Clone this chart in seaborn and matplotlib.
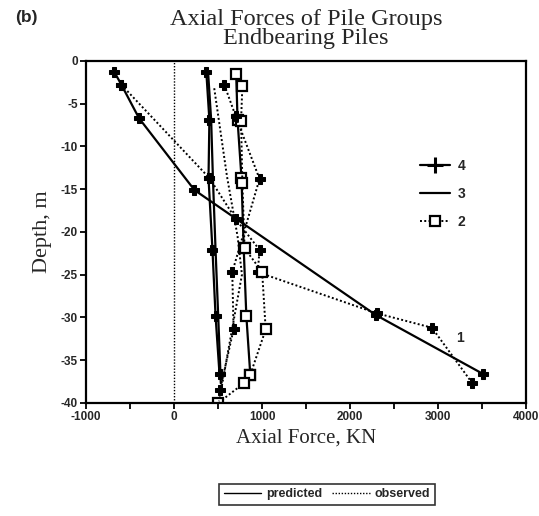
import matplotlib
matplotlib.use("Agg")
import matplotlib.pyplot as plt
import seaborn as sns
from matplotlib.lines import Line2D

sns.set_style("white")
plt.rcParams["axes.unicode_minus"] = False

# predicted (solid)
p1_force = [-680, -600, -400, 230, 2290, 3510]
p1_depth = [-1.3, -2.8, -6.7, -15.1, -29.7, -36.6]
p2_force = [705, 720, 765, 790, 820, 865]
p2_depth = [-1.5, -6.9, -13.7, -21.9, -29.8, -36.7]
p3_force = [385, 420, 440, 470, 500, 530]
p3_depth = [-1.3, -6.9, -13.7, -22.1, -29.8, -37.7]
p4_force = [365, 400, 390, 435, 470, 515]
p4_depth = [-1.3, -6.9, -13.7, -22.1, -29.8, -36.6]

# observed (dotted)
o1_force = [-600, 400, 700, 970, 950, 2300, 2930, 3390]
o1_depth = [-2.8, -13.7, -18.5, -22.1, -24.7, -29.5, -31.2, -37.7]
o2_force = [775, 760, 775, 800, 1000, 1040, 865, 790, 500]
o2_depth = [-2.9, -7.0, -14.3, -21.9, -24.7, -31.4, -36.7, -37.7, -40.0]
o3_force = [455, 600, 720, 770, 510]
o3_depth = [-3.2, -13.5, -20.5, -25.0, -39.8]
o4_force = [570, 700, 970, 660, 675, 520]
o4_depth = [-2.8, -6.5, -13.8, -24.7, -31.4, -38.5]

x_ticks = [-1000, 0, 1000, 2000, 3000, 4000]
y_ticks = [0, -5, -10, -15, -20, -25, -30, -35, -40]

dot = (0, (1, 1.2))
plus = dict(marker="P", markersize=6.5, markerfacecolor="black", markeredgecolor="black")
square = dict(marker="s", markersize=6.5, markerfacecolor="white",
              markeredgecolor="black", markeredgewidth=1.6)

fig = plt.figure(figsize=(5.39, 5.16), dpi=100)
ax = fig.add_axes([0.160, 0.219, 0.816, 0.663])

def draw(xs, ys, ls, lw, **kw):
    sns.lineplot(x=xs, y=ys, sort=False, estimator=None, color="black",
                 linestyle=ls, linewidth=lw, ax=ax, **kw)

ax.axvline(0, color="black", linestyle=dot, linewidth=1.0)

draw(p1_force, p1_depth, "-", 1.6, **plus)
draw(p2_force, p2_depth, "-", 1.6, **square)
draw(p3_force, p3_depth, "-", 1.6)
draw(p4_force, p4_depth, "-", 1.6, **plus)

draw(o1_force, o1_depth, dot, 1.4, **plus)
draw(o2_force, o2_depth, dot, 1.4, **square)
draw(o3_force, o3_depth, dot, 1.4)
draw(o4_force, o4_depth, dot, 1.4, **plus)

ax.set_xlim(-1000, 4000)
ax.set_ylim(-40, 0)
ax.set_xticks(x_ticks)
ax.set_yticks(y_ticks)
ax.set_xticks(range(-1000, 4001, 500), minor=True)
ax.tick_params(axis="both", which="both", direction="out", length=4, width=1.3,
               labelsize=8.5, color="black", bottom=True, left=True, pad=2)
for lab in ax.get_xticklabels() + ax.get_yticklabels():
    lab.set_fontweight("bold")
    lab.set_family("Liberation Sans")
for sp in ax.spines.values():
    sp.set_color("black")
    sp.set_linewidth(1.6)

ax.set_xlabel("Axial Force, KN", family="Liberation Serif", fontsize=15, labelpad=4)
ax.set_ylabel("Depth, m", family="Liberation Serif", fontsize=16, labelpad=6)
ax.set_title("Axial Forces of Pile Groups\nEndbearing Piles", family="Liberation Serif",
             fontsize=17.5, linespacing=0.9, pad=12)
fig.text(0.028, 0.967, "(b)", fontsize=12.5, fontweight="bold", family="Liberation Sans",
         va="center")

ax.text(3250, -32.4, "1", fontsize=10, fontweight="bold", family="Liberation Sans",
        va="center", ha="center")

pile_handles = [
    Line2D([], [], color="black", linewidth=1.6, marker="+", markersize=12, markeredgewidth=2.2),
    Line2D([], [], color="black", linewidth=1.6),
    Line2D([], [], color="black", linewidth=1.4, linestyle=dot, **square),
]
leg = ax.legend(pile_handles, ["4", "3", "2"], loc="upper left",
                bbox_to_anchor=(0.73, 0.75), frameon=False, handlelength=2.2,
                labelspacing=1.0, handletextpad=0.5,
                prop={"family": "Liberation Sans", "weight": "bold", "size": 10})

kind_handles = [
    Line2D([], [], color="black", linewidth=1.0),
    Line2D([], [], color="black", linewidth=1.0, linestyle=dot),
]
fl = fig.legend(kind_handles, ["predicted", "observed"], loc="center",
                bbox_to_anchor=(0.607, 0.042), ncol=2, frameon=True, fancybox=False,
                edgecolor="black", handlelength=3.0, columnspacing=0.8,
                handletextpad=0.4, borderpad=0.35,
                prop={"family": "Liberation Sans", "weight": "bold", "size": 9})
fl.get_frame().set_linewidth(1.2)

fig.savefig("out.png", dpi=100, facecolor="white")
